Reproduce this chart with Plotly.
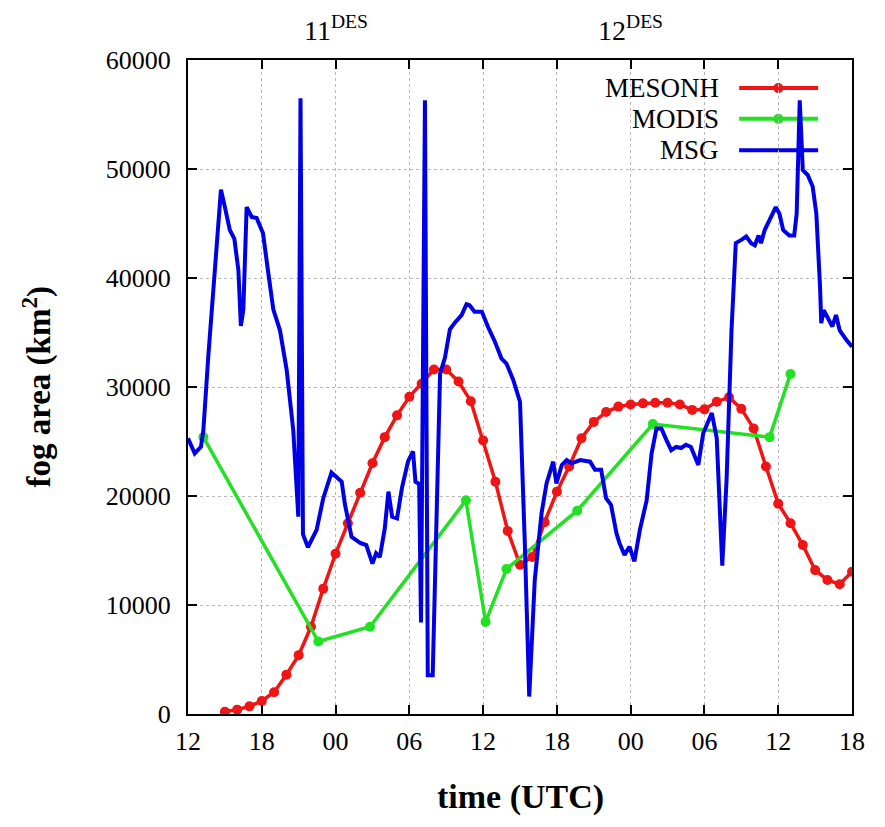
import plotly.graph_objects as go

# x values: hours since 12 UTC on 10 December
tick_hours = [0, 6, 12, 18, 24, 30, 36, 42, 48, 54]
tick_text = ["12", "18", "00", "06", "12", "18", "00", "06", "12", "18"]
y_ticks = [0, 10000, 20000, 30000, 40000, 50000, 60000]

mesonh_h = list(range(3, 55))
mesonh_v = [200, 400, 700, 1200, 2000, 3600, 5400, 8000, 11500, 14700,
            17500, 20300, 23000, 25400, 27400, 29100, 30300, 31600, 31600, 30500,
            28700, 25100, 21300, 16800, 13700, 14400, 17600, 20400, 22700, 25300,
            26800, 27700, 28200, 28400, 28500, 28550, 28550, 28400, 27900, 27950,
            28650, 29050, 28000, 26200, 22700, 19300, 17500, 15500, 13200, 12300,
            11900, 13050]

modis_h = [1.25, 10.6, 14.8, 22.6, 24.2, 25.9, 31.65, 37.8, 47.3, 49.0]
modis_v = [25400, 6650, 8000, 19600, 8450, 13300, 18650, 26600, 25400, 31200]

msg_h = [0.0, 0.55, 1.05, 1.25, 1.65, 2.2, 2.68, 3.0, 3.4, 3.77,
         4.1, 4.3, 4.5, 4.77, 5.18, 5.58, 6.1, 6.5, 6.94, 7.48,
         8.02, 8.56, 8.97, 9.15, 9.35, 9.75, 10.2, 10.46, 11.0, 11.67,
         12.5, 12.76, 13.3, 14.0, 14.5, 15.0, 15.3, 15.6, 16.0, 16.3,
         16.6, 17.0, 17.4, 17.9, 18.3, 18.5, 18.8, 18.95, 19.27, 19.5,
         19.9, 20.5, 20.9, 21.3, 21.7, 22.25, 22.65, 22.9, 23.3, 23.9,
         24.4, 24.96, 25.5, 25.9, 26.45, 27.0, 27.4, 27.75, 28.2, 28.75,
         29.16, 29.7, 29.96, 30.4, 30.8, 31.2, 31.9, 32.7, 33.1, 33.6,
         34.0, 34.4, 34.85, 35.1, 35.5, 35.9, 36.3, 36.75, 37.3, 37.7,
         38.1, 38.5, 38.9, 39.3, 39.7, 40.1, 40.5, 40.9, 41.5, 41.9,
         42.6, 43.0, 43.45, 43.8, 44.2, 44.55, 45.0, 45.4, 45.8, 46.1,
         46.4, 46.6, 46.9, 47.3, 47.8, 48.1, 48.4, 48.9, 49.3, 49.5,
         49.75, 50.0, 50.4, 50.8, 51.1, 51.4, 51.5, 51.7, 52.0, 52.4,
         52.7, 53.0, 53.55, 54.0]
msg_v = [25300, 23900, 24500, 26050, 32800, 40700, 48100, 46500, 44400, 43600,
         40700, 35600, 37100, 46500, 45600, 45500, 44100, 40700, 37100, 35200,
         31600, 26050, 18100, 56500, 16500, 15300, 16250, 16900, 19800, 22150,
         21300, 19250, 16250, 15700, 15500, 13800, 14750, 14400, 17000, 20400,
         18100, 17950, 20750, 23200, 24100, 21300, 21100, 8400, 56300, 3550,
         3550, 31200, 32700, 35300, 35900, 36600, 37600, 37500, 36900, 36900,
         35500, 34150, 32600, 32150, 30650, 28650, 15350, 1600, 12300, 18400,
         21150, 23150, 21150, 22850, 23300, 23000, 23300, 23150, 22400, 22400,
         19800, 19200, 16550, 15650, 14600, 15350, 14000, 16900, 19600, 23900,
         26200, 26200, 25150, 24200, 24500, 24400, 24700, 24500, 22850, 25750,
         27600, 25300, 13600, 21500, 35200, 43200, 43500, 43800, 43200, 43000,
         43900, 43200, 44400, 45300, 46500, 45900, 44400, 43900, 43900, 45900,
         56300, 49900, 49450, 48400, 45900, 39200, 35850, 37050, 36450, 35550,
         36600, 35200, 34300, 33700]

day_labels = ["11<sup>DES</sup>", "12<sup>DES</sup>"]
day_hours = [12, 36]

series_names = ["MESONH", "MODIS", "MSG"]
RED, GREEN, BLUE = "#f01414", "#22e022", "#0000e6"
FONT = "Liberation Serif"

fig = go.Figure()
fig.add_trace(go.Scatter(x=mesonh_h, y=mesonh_v, mode="lines+markers", name="MESONH",
                         line=dict(color=RED, width=3.5), marker=dict(size=10, color=RED)))
fig.add_trace(go.Scatter(x=modis_h, y=modis_v, mode="lines+markers", name="MODIS",
                         line=dict(color=GREEN, width=3.5), marker=dict(size=10, color=GREEN)))
fig.add_trace(go.Scatter(x=msg_h, y=msg_v, mode="lines", name="MSG",
                         line=dict(color=BLUE, width=4)))

axis_common = dict(showline=True, linecolor="black", linewidth=2, mirror="allticks",
                   ticks="inside", ticklen=9, tickwidth=1.5, tickcolor="black",
                   showgrid=True, gridcolor="#b8b8b8", gridwidth=1, griddash="dot",
                   zeroline=False, tickfont=dict(family=FONT, size=26, color="black"))

fig.update_xaxes(range=[0, 54], tickvals=tick_hours, ticktext=tick_text,
                 ticklabelstandoff=3, **axis_common)
fig.update_yaxes(range=[0, 60000], tickvals=y_ticks, tickformat="d",
                 ticklabelstandoff=10, **axis_common)

annotations = []
for lab, h in zip(day_labels, day_hours):
    annotations.append(dict(x=h, xref="x", y=1.048, yref="paper", text=lab,
                            showarrow=False, xanchor="center", yanchor="middle",
                            font=dict(family=FONT, size=28, color="black")))
annotations.append(dict(x=-0.228, xref="paper", y=0.5, yref="paper",
                        text="<b>fog area (km<sup>2</sup>)</b>", textangle=-90,
                        showarrow=False, xanchor="center", yanchor="middle",
                        font=dict(family=FONT, size=33, color="black")))
annotations.append(dict(x=0.5, xref="paper", y=-0.127, yref="paper",
                        text="<b>time (UTC)</b>", showarrow=False,
                        xanchor="center", yanchor="middle",
                        font=dict(family=FONT, size=34, color="black")))

# manual gnuplot-style legend (text on the left, sample on the right)
leg_y = [0.957, 0.910, 0.862]
leg_colors = [RED, GREEN, BLUE]
leg_marker = [True, True, False]
shapes = []
for name, yy, col, mk in zip(series_names, leg_y, leg_colors, leg_marker):
    annotations.append(dict(x=0.803, xref="paper", y=yy, yref="paper", text=name,
                            showarrow=False, xanchor="right", yanchor="middle",
                            font=dict(family=FONT, size=27, color="black")))
    shapes.append(dict(type="line", xref="paper", yref="paper", x0=0.830, x1=0.949,
                       y0=yy, y1=yy, line=dict(color=col, width=4), layer="below"))
    if mk:
        shapes.append(dict(type="circle", xref="paper", yref="paper",
                           xsizemode="pixel", ysizemode="pixel",
                           xanchor=0.889, yanchor=yy, x0=-5, x1=5, y0=-5, y1=5,
                           fillcolor=col, line=dict(color=col, width=0), layer="below"))

# the page adds an 8px body margin, so the figure is 8px smaller on each axis
fig.update_layout(width=877, height=819, showlegend=False,
                  margin=dict(l=180, r=33, t=52, b=113),
                  plot_bgcolor="white", paper_bgcolor="white",
                  annotations=annotations, shapes=shapes)

fig.write_html("out.html")
